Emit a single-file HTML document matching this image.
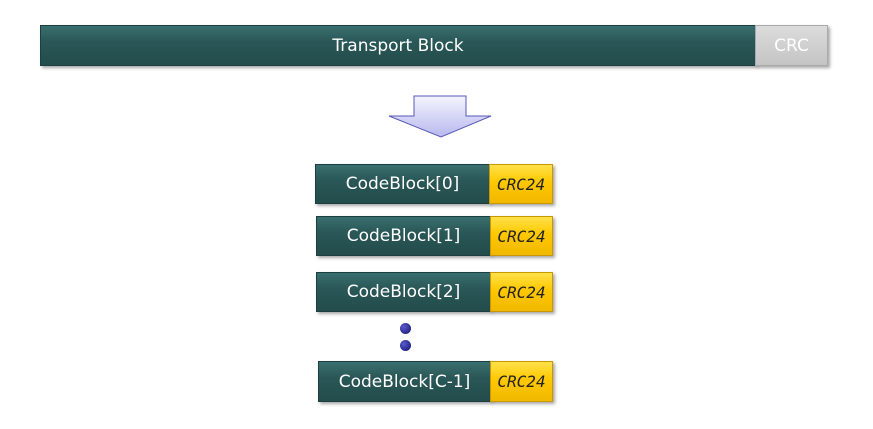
<!DOCTYPE html><html><head><style>
body{margin:0;width:873px;height:429px;background:#fff;position:relative;font-family:"DejaVu Sans","Liberation Sans",sans-serif;overflow:hidden}
.b{position:absolute;box-sizing:border-box;display:flex;align-items:center;justify-content:center;color:#fff;font-size:17px;
background:linear-gradient(#3b6f6f,#2a5757 40%,#234c4c);border:1px solid #1e3f3f;box-shadow:2px 2px 3px rgba(0,0,0,.35)}
.c{position:absolute;box-sizing:border-box;display:flex;align-items:center;justify-content:center;font-style:italic;font-size:16px;font-family:"DejaVu Sans Mono","Liberation Mono",monospace;color:#222;
background:linear-gradient(#ffe14a,#ffc800 45%,#f0b800);border:1px solid #c99700;box-shadow:2px 2px 3px rgba(0,0,0,.35)}
.d{position:absolute;width:11px;height:11px;border-radius:50%;background:radial-gradient(circle at 35% 35%,#5a5acc,#101070)}
</style></head><body>
<div class="b" style="left:40px;top:25px;width:716px;height:41px">Transport Block</div>
<div class="b" style="left:755px;top:25px;width:73px;height:41px;background:linear-gradient(#dcdcdc,#c4c4c4);border-color:#aaa;color:#fff">CRC</div>
<svg style="position:absolute;left:0;top:0" width="873" height="429"><defs><linearGradient id="g" x1="0" y1="0" x2="0" y2="1"><stop offset="0" stop-color="#f4f4ff"/><stop offset="1" stop-color="#b8b8ee"/></linearGradient></defs>
<polygon points="414,96 466,96 466,116 491,116 441,137 389,116 414,116" fill="url(#g)" stroke="#5a5ab8" stroke-width="1"/></svg>
<div class="b" style="left:315px;top:164px;width:175px;height:40px">CodeBlock[0]</div>
<div class="c" style="left:489px;top:164px;width:64px;height:40px">CRC24</div>
<div class="b" style="left:316px;top:216px;width:175px;height:40px">CodeBlock[1]</div>
<div class="c" style="left:490px;top:216px;width:63px;height:40px">CRC24</div>
<div class="b" style="left:316px;top:272px;width:175px;height:40px">CodeBlock[2]</div>
<div class="c" style="left:490px;top:272px;width:63px;height:40px">CRC24</div>
<div class="d" style="left:400px;top:323px"></div>
<div class="d" style="left:400px;top:340px"></div>
<div class="b" style="left:318px;top:361px;width:173px;height:41px">CodeBlock[C-1]</div>
<div class="c" style="left:490px;top:361px;width:63px;height:41px">CRC24</div>
</body></html>
